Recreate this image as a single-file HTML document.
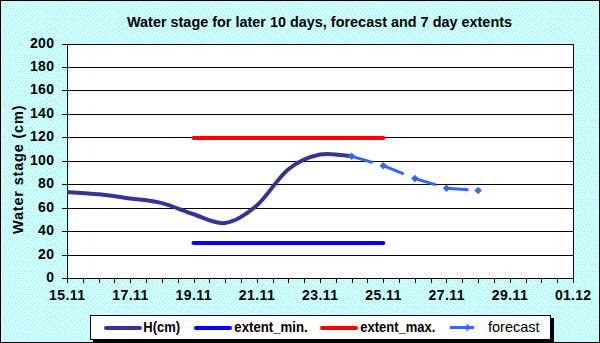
<!DOCTYPE html>
<html><head><meta charset="utf-8"><title>Water stage chart</title><style>
html,body{margin:0;padding:0;width:600px;height:343px;overflow:hidden;background:#CCFFFF}
svg{display:block;position:absolute;left:0;top:0}
text{font-family:"Liberation Sans",sans-serif;font-weight:bold;fill:#000}
</style></head><body>
<svg width="600" height="343" viewBox="0 0 600 343">
<defs>
<pattern id="dots" x="0" y="0" width="9" height="9" patternUnits="userSpaceOnUse"><rect x="1" y="1" width="1" height="1" fill="#B4EBED"/><rect x="4" y="1" width="1" height="1" fill="#B4EBED"/><rect x="7" y="1" width="1" height="1" fill="#B4EBED"/><rect x="0" y="3" width="1" height="1" fill="#B4EBED"/><rect x="5" y="3" width="1" height="1" fill="#B4EBED"/><rect x="2" y="4" width="1" height="1" fill="#B4EBED"/><rect x="8" y="5" width="1" height="1" fill="#B4EBED"/><rect x="3" y="6" width="1" height="1" fill="#B4EBED"/><rect x="6" y="6" width="1" height="1" fill="#B4EBED"/><rect x="1" y="8" width="1" height="1" fill="#B4EBED"/><rect x="5" y="8" width="1" height="1" fill="#B4EBED"/></pattern>
<clipPath id="pc"><rect x="67" y="30" width="510" height="260"/></clipPath>
</defs>
<rect x="0" y="0" width="600" height="343" fill="#CCFFFF"/>
<rect x="0" y="0" width="600" height="343" fill="url(#dots)"/>
<text x="127" y="27" font-size="14.4" textLength="385" lengthAdjust="spacing">Water stage for later 10 days, forecast and 7 day extents</text>
<rect x="68" y="44" width="505" height="234" fill="#FFFFFF"/>
<g shape-rendering="crispEdges" fill="#000">
<rect x="62" y="44" width="512" height="1"/>
<rect x="62" y="67" width="512" height="1"/>
<rect x="62" y="90" width="512" height="1"/>
<rect x="62" y="114" width="512" height="1"/>
<rect x="62" y="137" width="512" height="1"/>
<rect x="62" y="161" width="512" height="1"/>
<rect x="62" y="184" width="512" height="1"/>
<rect x="62" y="208" width="512" height="1"/>
<rect x="62" y="231" width="512" height="1"/>
<rect x="62" y="255" width="512" height="1"/>
<rect x="62" y="278" width="512" height="1"/>
<rect x="67" y="44" width="1" height="239"/>
<rect x="573" y="44" width="1" height="239"/>
<rect x="67" y="278" width="1" height="5"/>
<rect x="83" y="278" width="1" height="5"/>
<rect x="99" y="278" width="1" height="5"/>
<rect x="114" y="278" width="1" height="5"/>
<rect x="130" y="278" width="1" height="5"/>
<rect x="146" y="278" width="1" height="5"/>
<rect x="162" y="278" width="1" height="5"/>
<rect x="178" y="278" width="1" height="5"/>
<rect x="194" y="278" width="1" height="5"/>
<rect x="209" y="278" width="1" height="5"/>
<rect x="225" y="278" width="1" height="5"/>
<rect x="241" y="278" width="1" height="5"/>
<rect x="257" y="278" width="1" height="5"/>
<rect x="273" y="278" width="1" height="5"/>
<rect x="288" y="278" width="1" height="5"/>
<rect x="304" y="278" width="1" height="5"/>
<rect x="320" y="278" width="1" height="5"/>
<rect x="336" y="278" width="1" height="5"/>
<rect x="352" y="278" width="1" height="5"/>
<rect x="367" y="278" width="1" height="5"/>
<rect x="383" y="278" width="1" height="5"/>
<rect x="399" y="278" width="1" height="5"/>
<rect x="415" y="278" width="1" height="5"/>
<rect x="431" y="278" width="1" height="5"/>
<rect x="446" y="278" width="1" height="5"/>
<rect x="462" y="278" width="1" height="5"/>
<rect x="478" y="278" width="1" height="5"/>
<rect x="494" y="278" width="1" height="5"/>
<rect x="510" y="278" width="1" height="5"/>
<rect x="526" y="278" width="1" height="5"/>
<rect x="541" y="278" width="1" height="5"/>
<rect x="557" y="278" width="1" height="5"/>
<rect x="573" y="278" width="1" height="5"/>
</g>
<text x="54" y="47.5" font-size="14" text-anchor="end" textLength="24" lengthAdjust="spacing">200</text>
<text x="54" y="70.5" font-size="14" text-anchor="end" textLength="24" lengthAdjust="spacing">180</text>
<text x="54" y="93.5" font-size="14" text-anchor="end" textLength="24" lengthAdjust="spacing">160</text>
<text x="54" y="117.5" font-size="14" text-anchor="end" textLength="24" lengthAdjust="spacing">140</text>
<text x="54" y="140.5" font-size="14" text-anchor="end" textLength="24" lengthAdjust="spacing">120</text>
<text x="54" y="164.5" font-size="14" text-anchor="end" textLength="24" lengthAdjust="spacing">100</text>
<text x="54" y="187.5" font-size="14" text-anchor="end" textLength="16" lengthAdjust="spacing">80</text>
<text x="54" y="211.5" font-size="14" text-anchor="end" textLength="16" lengthAdjust="spacing">60</text>
<text x="54" y="234.5" font-size="14" text-anchor="end" textLength="16" lengthAdjust="spacing">40</text>
<text x="54" y="258.5" font-size="14" text-anchor="end" textLength="16" lengthAdjust="spacing">20</text>
<text x="54" y="281.5" font-size="14" text-anchor="end">0</text>
<text x="67.00" y="300" font-size="14" text-anchor="middle" textLength="36" lengthAdjust="spacing">15.11</text>
<text x="130.25" y="300" font-size="14" text-anchor="middle" textLength="36" lengthAdjust="spacing">17.11</text>
<text x="193.50" y="300" font-size="14" text-anchor="middle" textLength="36" lengthAdjust="spacing">19.11</text>
<text x="256.75" y="300" font-size="14" text-anchor="middle" textLength="36" lengthAdjust="spacing">21.11</text>
<text x="320.00" y="300" font-size="14" text-anchor="middle" textLength="36" lengthAdjust="spacing">23.11</text>
<text x="383.25" y="300" font-size="14" text-anchor="middle" textLength="36" lengthAdjust="spacing">25.11</text>
<text x="446.50" y="300" font-size="14" text-anchor="middle" textLength="36" lengthAdjust="spacing">27.11</text>
<text x="509.75" y="300" font-size="14" text-anchor="middle" textLength="36" lengthAdjust="spacing">29.11</text>
<text x="573.00" y="300" font-size="14" text-anchor="middle" textLength="36" lengthAdjust="spacing">01.12</text>
<text transform="translate(22.5,234) rotate(-90)" x="0" y="0" font-size="14.5" textLength="128.5" lengthAdjust="spacing">Water stage (cm)</text>
<line x1="193.50" y1="138" x2="383.25" y2="138" stroke="#FF0000" stroke-width="4" stroke-linecap="round"/>
<line x1="193.50" y1="243" x2="383.25" y2="243" stroke="#0000FF" stroke-width="4" stroke-linecap="round"/>
<path clip-path="url(#pc)" d="M67.00,192.00 C72.27,192.39 88.08,193.27 98.62,194.34 C109.17,195.42 119.71,196.98 130.25,198.44 C140.79,199.90 151.33,200.49 161.88,203.12 C172.42,205.75 182.96,210.92 193.50,214.24 C204.04,217.55 214.58,224.47 225.12,223.01 C235.67,221.55 246.21,214.43 256.75,205.46 C267.29,196.49 277.83,177.67 288.38,169.19 C298.92,160.71 309.46,156.71 320.00,154.56 C330.54,152.42 346.35,156.03 351.62,156.32" fill="none" stroke="#333399" stroke-width="4" stroke-linecap="round" stroke-linejoin="round"/>
<line x1="351.62" y1="156.32" x2="383.25" y2="165.68" stroke="#3366FF" stroke-width="3" stroke-dasharray="22 100"/>
<line x1="383.25" y1="165.68" x2="414.88" y2="178.55" stroke="#3366FF" stroke-width="3" stroke-dasharray="22 100"/>
<line x1="414.88" y1="178.55" x2="446.50" y2="188.14" stroke="#3366FF" stroke-width="3" stroke-dasharray="22 100"/>
<line x1="446.50" y1="188.14" x2="478.12" y2="190.60" stroke="#3366FF" stroke-width="3" stroke-dasharray="22 100"/>
<path d="M351.62,152.57 l3.75,3.75 l-3.75,3.75 l-3.75,-3.75 z" fill="#3366FF"/>
<path d="M383.25,161.93 l3.75,3.75 l-3.75,3.75 l-3.75,-3.75 z" fill="#3366FF"/>
<path d="M414.88,174.80 l3.75,3.75 l-3.75,3.75 l-3.75,-3.75 z" fill="#3366FF"/>
<path d="M446.50,184.39 l3.75,3.75 l-3.75,3.75 l-3.75,-3.75 z" fill="#3366FF"/>
<path d="M478.12,186.85 l3.75,3.75 l-3.75,3.75 l-3.75,-3.75 z" fill="#3366FF"/>
<rect x="93" y="318" width="461" height="25" fill="#000"/>
<rect x="90.5" y="315.5" width="460" height="24" fill="#FFFFFF" stroke="#000" stroke-width="1"/>
<line x1="106" y1="328" x2="140" y2="328" stroke="#333399" stroke-width="4" stroke-linecap="round"/>
<text x="143.3" y="332" font-size="14" textLength="36.9" lengthAdjust="spacingAndGlyphs">H(cm)</text>
<line x1="196" y1="328" x2="230" y2="328" stroke="#0000FF" stroke-width="4" stroke-linecap="round"/>
<text x="234.3" y="332" font-size="14" textLength="73.4" lengthAdjust="spacingAndGlyphs">extent_min.</text>
<line x1="322" y1="328" x2="356" y2="328" stroke="#FF0000" stroke-width="4" stroke-linecap="round"/>
<text x="360.2" y="332" font-size="14" textLength="75.2" lengthAdjust="spacingAndGlyphs">extent_max.</text>
<line x1="450" y1="327.5" x2="474" y2="327.5" stroke="#3366FF" stroke-width="3" stroke-linecap="butt"/>
<path d="M467.5,323.8 l2.5,3.7 l-2.5,3.7 l-2.5,-3.7 z" fill="#3366FF"/>
<text x="488" y="332" font-size="14.5" font-weight="normal" style="font-weight:normal" textLength="51.5" lengthAdjust="spacing">forecast</text>
<rect x="0.5" y="0.5" width="599" height="342" fill="none" stroke="#000" stroke-width="1"/>
</svg>
</body></html>
